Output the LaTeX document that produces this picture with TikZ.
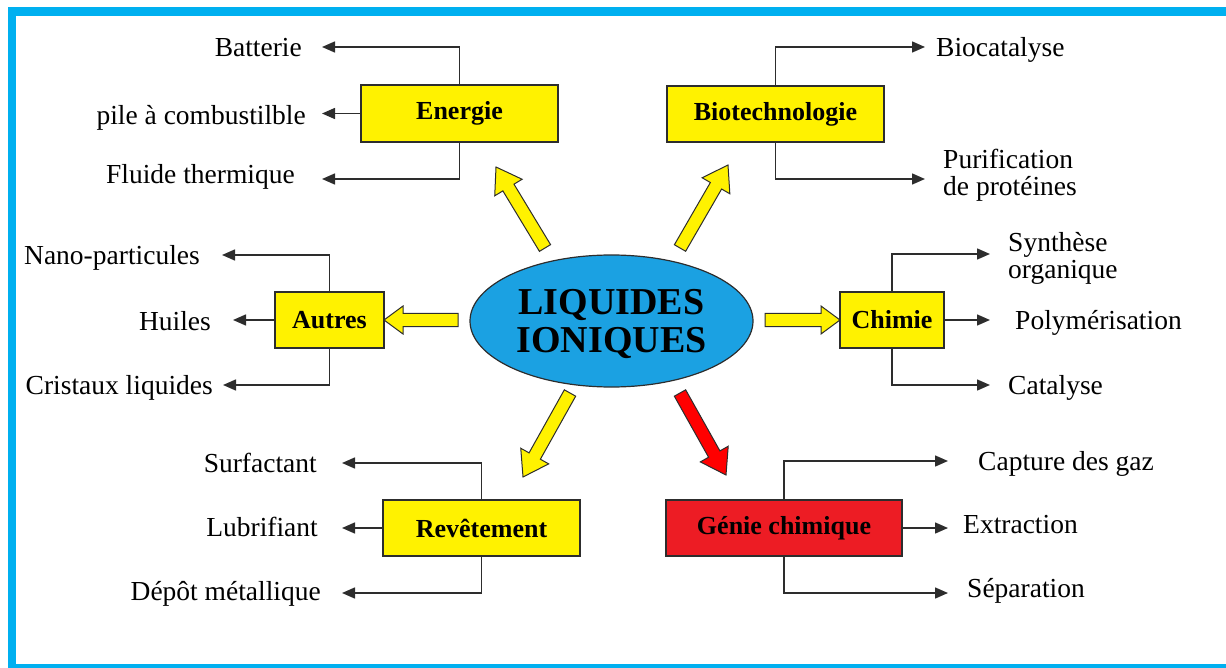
\documentclass[tikz,border=0pt]{standalone}
\usepackage{fontspec}
\setmainfont{Liberation Serif}
\usetikzlibrary{shapes.geometric,arrows.meta,calc}
\definecolor{frameblue}{RGB}{0,176,240}
\definecolor{ellblue}{RGB}{27,161,226}
\definecolor{boxyellow}{RGB}{255,242,0}
\definecolor{boxred}{RGB}{237,28,36}
\definecolor{arrred}{RGB}{255,0,0}
\definecolor{linegray}{RGB}{45,45,45}
\newcommand\fatarr[5]{%
  \coordinate (fa-t) at (#1);
  \coordinate (fa-p) at (#2);
  \coordinate (fa-h) at ($(fa-p)!#5pt!(fa-t)$);
  \filldraw[fatline, fill=#3] ($(fa-t)!6.5pt!90:(fa-p)$) -- ($(fa-h)!6.5pt!90:(fa-p)$)
    -- ($(fa-h)!#4pt!90:(fa-p)$) -- (fa-p) -- ($(fa-h)!#4pt!-90:(fa-p)$)
    -- ($(fa-h)!6.5pt!-90:(fa-p)$) -- ($(fa-t)!6.5pt!-90:(fa-p)$) -- cycle;}
\begin{document}
\begin{tikzpicture}[x=1pt,y=-1pt,
  box/.style={draw=linegray, line width=1.5pt, fill=boxyellow, inner sep=0pt,
    font=\bfseries\fontsize{26}{26}\selectfont},
  lab/.style={inner sep=0pt, font=\fontsize{27.5}{27}\selectfont, text height=19pt, text depth=0pt},
  labtwo/.style={inner sep=0pt, font=\fontsize{27.5}{27}\selectfont, align=left},
  labL/.style={lab, anchor=east},
  labR/.style={lab, anchor=west},
  arr/.style={draw=linegray, line width=1.5pt, -{Triangle[length=13pt,width=11pt]}},
  fatline/.style={draw=linegray, line width=1pt, line join=miter},
  ell/.style={ellipse, draw=linegray, line width=1.2pt, fill=ellblue, inner sep=0pt,
    minimum width=283pt, minimum height=132pt,
    font=\bfseries\fontsize{38}{38}\selectfont}]
\useasboundingbox (0,0) rectangle (1226,668);
\begin{scope}
  \clip (0,0) rectangle (1226,668);
  \draw[frameblue, line width=8.5pt] (12,11.5) rectangle (1240,668.5);
\end{scope}

% center
\node[ell] (li) at (611.5,321) {\raisebox{-5pt}[\height][\depth]{\begin{tabular}{@{}c@{}}LIQUIDES\\IONIQUES\end{tabular}}};

% boxes
\node[box, minimum width=197pt, minimum height=57pt] (energie) at (459.5,113.5) {Energie};
\node[box, minimum width=217pt, minimum height=56pt] (bio) at (775.5,114) {Biotechnologie};
\node[box, minimum width=104pt, minimum height=56pt] (chimie) at (892,320) {Chimie};
\node[box, minimum width=109pt, minimum height=56pt] (autres) at (329.5,320) {Autres};
\node[box, minimum width=197pt, minimum height=56pt] (revet) at (481.5,528) {Revêtement};
\node[box, fill=boxred, minimum width=236pt, minimum height=56pt] (genie) at (784,528) {Génie chimique};

% labels left
\node[labL] (batterie) at (302,47) {Batterie};
\node[labL] (pile) at (306,115) {pile à combustilble};
\node[labL] (fluide) at (295,174) {Fluide thermique};
\node[labL] (nano) at (200,255) {Nano-particules};
\node[labL] (huiles) at (211,321) {Huiles};
\node[labL] (cristaux) at (213,385) {Cristaux liquides};
\node[labL] (surf) at (317,463) {Surfactant};
\node[labL] (lubr) at (318,527) {Lubrifiant};
\node[labL] (depot) at (321,591) {Dépôt métallique};
% labels right
\node[labR] (biocat) at (936,47) {Biocatalyse};
\node[labtwo, anchor=west] (purif) at (943,175) {Purification\\de protéines};
\node[labtwo, anchor=west] (synth) at (1008,258) {Synthèse\\organique};
\node[labR] (poly) at (1015,320) {Polymérisation};
\node[labR] (catal) at (1008,385) {Catalyse};
\node[labR] (capture) at (978,461) {Capture des gaz};
\node[labR] (extraction) at (963,524) {Extraction};
\node[labR] (separation) at (967,588) {Séparation};

% connectors
\draw[arr] (energie.north) |- ([xshift=20pt]batterie.east);
\draw[arr] (energie.west) -- ([xshift=16pt]energie.west -| pile.east);
\draw[arr] (energie.south) |- ([xshift=27pt,yshift=-5pt]fluide.east);

\draw[arr] (autres.north) |- ([xshift=22pt]nano.east);
\draw[arr] (autres.west) -- ([xshift=22pt]autres.west -| huiles.east);
\draw[arr] (autres.south) |- ([xshift=10pt]cristaux.east);

\draw[arr] (revet.north) |- ([xshift=25pt]surf.east);
\draw[arr] (revet.west) -- ([xshift=24pt]revet.west -| lubr.east);
\draw[arr] (revet.south) |- ([xshift=21pt,yshift=-2pt]depot.east);

\draw[arr] (bio.north) |- ([xshift=-11pt]biocat.west);
\draw[arr] (bio.south) |- ([xshift=-18pt,yshift=-4pt]purif.west);

\draw[arr] (chimie.north) |- ([xshift=-18pt,yshift=4pt]synth.west);
\draw[arr] (chimie.east) -- ([xshift=-25pt]chimie.east -| poly.west);
\draw[arr] (chimie.south) |- ([xshift=-18pt]catal.west);

\draw[arr] (genie.north) |- ([xshift=-30pt]capture.west);
\draw[arr] (genie.east) -- ([xshift=-15pt]genie.east -| extraction.west);
\draw[arr] (genie.south) |- ([xshift=-19pt,yshift=-5pt]separation.west);

% fat arrows
\fatarr{545,248}{496,167}{boxyellow}{16}{24}
\fatarr{680,248}{728,165}{boxyellow}{16}{24}
\fatarr{458,320}{384,320}{boxyellow}{14}{19}
\fatarr{765,320}{840,320}{boxyellow}{14}{19}
\fatarr{570,393}{523,477}{boxyellow}{16}{24}
\fatarr{680,393}{726,475}{arrred}{16}{24}
\end{tikzpicture}
\end{document}
